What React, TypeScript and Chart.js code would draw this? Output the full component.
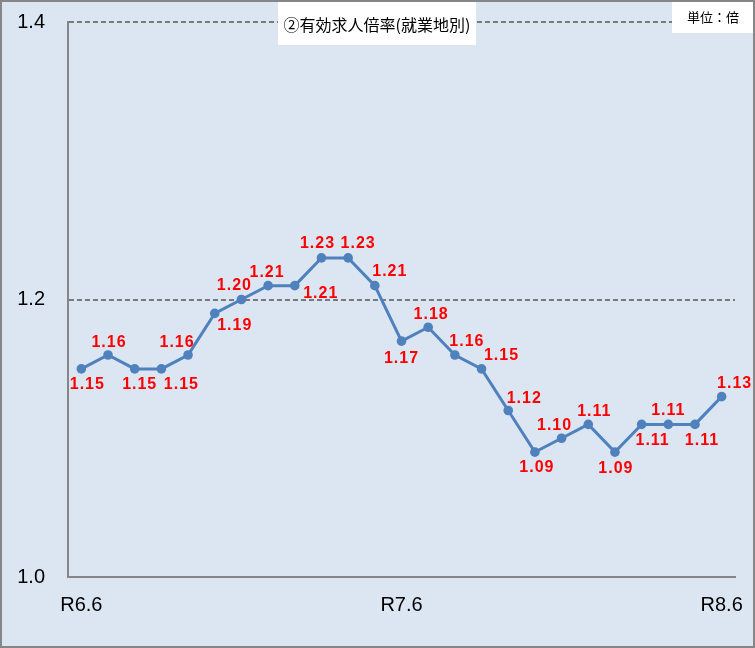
import { useEffect, useRef } from "react";
import { Chart, registerables } from "chart.js";

Chart.register(...registerables);

// 月 (R6.6 〜 R8.6)
const months = [
  "R6.6", "R6.7", "R6.8", "R6.9", "R6.10", "R6.11", "R6.12",
  "R7.1", "R7.2", "R7.3", "R7.4", "R7.5", "R7.6", "R7.7", "R7.8", "R7.9", "R7.10", "R7.11", "R7.12",
  "R8.1", "R8.2", "R8.3", "R8.4", "R8.5", "R8.6",
];
const shownMonths = ["R6.6", "R7.6", "R8.6"];

// 有効求人倍率(就業地別)
const ratios = [
  1.15, 1.16, 1.15, 1.15, 1.16, 1.19, 1.2, 1.21, 1.21, 1.23, 1.23, 1.21, 1.17,
  1.18, 1.16, 1.15, 1.12, 1.09, 1.1, 1.11, 1.09, 1.11, 1.11, 1.11, 1.13,
];

const yTicks = [1.0, 1.2, 1.4];

const TITLE = "②有効求人倍率(就業地別)";
const UNIT = "単位：倍";

// label nudges (px from the point), matches the excel layout
const labelShift: [number, number][] = [
  [5, 16], [0, -12], [4, 16], [19, 16], [-12, -12], [19, 12], [-8, -14], [-2, -13],
  [25, 8], [-5, -14], [9, -14], [14, -14], [-1, 17], [2, -13], [11, -13], [19, -13],
  [15, -12], [1, 15], [-8, -13], [5, -13], [0, 16], [10, 16], [-1, -14], [6, 16], [12, -13],
];

const frame = {
  id: "frame",
  beforeDraw(chart: Chart) {
    const { ctx, width, height } = chart;
    ctx.save();
    ctx.fillStyle = "#dce6f2";
    ctx.fillRect(0, 0, width, height);
    ctx.restore();
  },
  afterDatasetsDraw(chart: Chart) {
    const { ctx } = chart;
    const meta = chart.getDatasetMeta(0);
    ctx.save();
    ctx.font = "bold 16px 'Liberation Sans', Arial, sans-serif";
    (ctx as any).letterSpacing = "1px";
    ctx.fillStyle = "#ff0000";
    ctx.textAlign = "center";
    ctx.textBaseline = "middle";
    meta.data.forEach((pt: any, i: number) => {
      const [dx, dy] = labelShift[i] || [0, -14];
      ctx.fillText(ratios[i].toFixed(2), pt.x + dx + 1, pt.y + dy);
    });
    ctx.restore();
  },
  afterDraw(chart: Chart) {
    const { ctx, width, height } = chart;
    ctx.save();
    // title box
    ctx.fillStyle = "#ffffff";
    ctx.fillRect(278, 2, 198, 43);
    ctx.fillStyle = "#000000";
    ctx.font = "16px 'Noto Sans CJK JP', sans-serif";
    ctx.textAlign = "center";
    ctx.textBaseline = "middle";
    ctx.fillText(TITLE, 377, 25);
    // unit box
    ctx.fillStyle = "#ffffff";
    ctx.fillRect(672, 2, 81, 31);
    ctx.fillStyle = "#000000";
    ctx.font = "13px 'Noto Sans CJK JP', sans-serif";
    ctx.fillText(UNIT, 713, 17);
    // outer border
    ctx.strokeStyle = "#868686";
    ctx.lineWidth = 2;
    ctx.strokeRect(1, 1, width - 2, height - 2);
    ctx.restore();
  },
};

export default function App() {
  const ref = useRef<HTMLCanvasElement>(null);

  useEffect(() => {
    document.body.style.margin = "0";
    if (!ref.current) return;
    const chart = new Chart(ref.current, {
      type: "line",
      data: {
        labels: months,
        datasets: [
          {
            data: ratios,
            borderColor: "#4f81bd",
            backgroundColor: "#4f81bd",
            borderWidth: 3,
            pointRadius: 4.8,
            pointBorderWidth: 0,
            tension: 0,
          },
        ],
      },
      options: {
        animation: false,
        responsive: true,
        maintainAspectRatio: false,
        layout: { padding: { top: 22, right: 20, left: 0, bottom: 0 } },
        plugins: { legend: { display: false }, tooltip: { enabled: false } },
        scales: {
          x: {
            offset: true,
            grid: { display: false, drawTicks: false },
            border: { display: true, color: "#868686", width: 2 },
            ticks: {
              autoSkip: false,
              maxRotation: 0,
              padding: 16,
              color: "#000000",
              font: { family: "'Liberation Sans Narrow', 'Liberation Sans', sans-serif", size: 20 },
              callback: (_v, i) => (shownMonths.includes(months[i]) ? months[i] : ""),
            },
            afterFit: (s: any) => {
              s.height = 71;
              s.paddingLeft = 0;
              s.paddingRight = 0;
            },
          },
          y: {
            min: 1.0,
            max: 1.4,
            grid: {
              drawTicks: false,
              color: (c: any) => (c.tick && c.tick.value <= 1.0001 ? "rgba(0,0,0,0)" : "#7a7a7a"),
              lineWidth: 2,
            },
            border: { display: true, color: "#868686", width: 2, dash: [5, 3] },
            afterBuildTicks: (s: any) => {
              s.ticks = yTicks.map((v) => ({ value: v }));
            },
            ticks: {
              padding: 23,
              color: "#000000",
              font: { family: "'Liberation Sans Narrow', 'Liberation Sans', sans-serif", size: 20 },
              callback: (v) => Number(v).toFixed(1),
            },
            afterFit: (s: any) => {
              s.width = 68;
              s.paddingTop = 0;
              s.paddingBottom = 0;
            },
          },
        },
      },
      plugins: [frame],
    });
    return () => chart.destroy();
  }, []);

  return (
    <div style={{ width: 755, height: 648, position: "relative" }}>
      <canvas ref={ref} />
    </div>
  );
}
